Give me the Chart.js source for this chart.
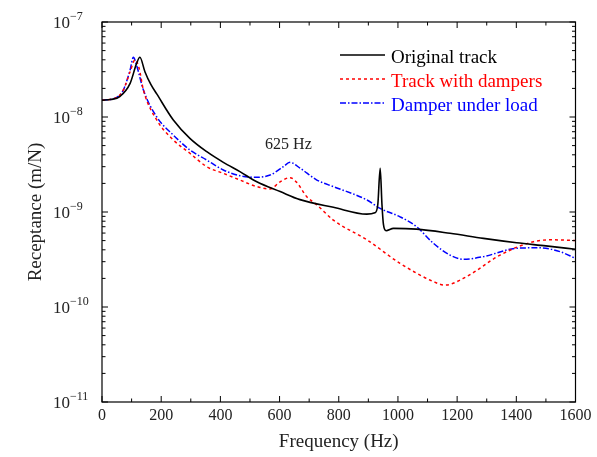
<!DOCTYPE html>
<html>
<head>
<meta charset="utf-8">
<script src="https://cdn.jsdelivr.net/npm/chart.js@4.4.1/dist/chart.umd.min.js"></script>
<style>
  html, body { margin: 0; padding: 0; background: #fff; }
</style>
</head>
<body>
<canvas id="receptanceChart" width="597" height="457"></canvas>
<script>
// frequencies (Hz) and receptance (m/N)
const freqOriginal = [0, 30, 60, 95, 117, 128, 145, 165, 185, 241, 297, 354, 410, 466, 523, 602, 669, 782, 895, 922, 932, 940, 946, 951, 960, 985, 1063, 1176, 1289, 1401, 1500, 1600];
const valOriginal = [1.5e-8, 1.53e-8, 1.64e-8, 2.26e-8, 3.67e-8, 4.25e-8, 3.0e-8, 2.2e-8, 1.75e-8, 9.3e-9, 5.96e-9, 4.31e-9, 3.33e-9, 2.66e-9, 2.08e-9, 1.64e-9, 1.35e-9, 1.12e-9, 9.5e-10, 9.8e-10, 1.2e-9, 2.88e-9, 1.2e-9, 7.4e-10, 6.35e-10, 6.73e-10, 6.6e-10, 5.97e-10, 5.28e-10, 4.75e-10, 4.4e-10, 4.05e-10];

const freqDampers = [0, 50, 72, 95, 112, 125, 140, 185, 241, 297, 354, 410, 466, 523, 568, 602, 635, 658, 692, 726, 782, 895, 1007, 1120, 1159, 1232, 1345, 1458, 1520, 1600];
const valDampers = [1.5e-8, 1.61e-8, 1.92e-8, 3.0e-8, 4.0e-8, 3.3e-8, 1.92e-8, 9.3e-9, 5.73e-9, 4.15e-9, 3.0e-9, 2.55e-9, 2.17e-9, 1.85e-9, 1.75e-9, 2.08e-9, 2.3e-9, 2.05e-9, 1.45e-9, 1.19e-9, 8.2e-10, 5.1e-10, 2.88e-10, 1.85e-10, 1.7e-10, 2.09e-10, 3.52e-10, 4.87e-10, 5.1e-10, 5.0e-10];

const freqLoad = [0, 50, 72, 95, 106, 118, 140, 185, 241, 297, 354, 410, 466, 523, 568, 613, 635, 669, 726, 782, 895, 940, 1007, 1063, 1120, 1176, 1221, 1289, 1401, 1480, 1548, 1600];
const valLoad = [1.5e-8, 1.61e-8, 1.92e-8, 3.13e-8, 4.25e-8, 3.4e-8, 1.92e-8, 1.0e-8, 6.45e-9, 4.5e-9, 3.52e-9, 2.77e-9, 2.41e-9, 2.32e-9, 2.45e-9, 3.0e-9, 3.33e-9, 2.9e-9, 2.17e-9, 1.85e-9, 1.34e-9, 1.09e-9, 8.9e-10, 7.0e-10, 4.68e-10, 3.52e-10, 3.18e-10, 3.39e-10, 4.15e-10, 4.2e-10, 3.82e-10, 3.25e-10];

const seriesLabels = ['Original track', 'Track with dampers', 'Damper under load'];
const seriesColors = ['#000000', '#ff0000', '#0000ff'];
const seriesDash = [[], [3, 3], [6, 2, 1.5, 2]];

const xTickValues = [0, 200, 400, 600, 800, 1000, 1200, 1400, 1600];
const yDecades = [-11, -10, -9, -8, -7];
const peakNote = { x: 630, y: 5.1e-9, text: '625 Hz' };

const SERIF = '"Liberation Serif", "Times New Roman", serif';

function toPoints(xs, ys) {
  return xs.map((x, i) => ({ x: x, y: ys[i] }));
}

const framePlugin = {
  id: 'frame',
  afterDraw(chart) {
    const ctx = chart.ctx;
    const a = chart.chartArea;
    const xs = chart.scales.x;
    const ys = chart.scales.y;
    ctx.save();
    ctx.strokeStyle = '#000';
    ctx.lineWidth = 1.2;
    ctx.strokeRect(a.left, a.top, a.right - a.left, a.bottom - a.top);

    // x ticks, inward on bottom and top
    ctx.lineWidth = 1;
    ctx.beginPath();
    for (let f = 0; f <= 1600; f += 100) {
      const px = xs.getPixelForValue(f);
      const len = f % 200 === 0 ? 6 : 3.5;
      ctx.moveTo(px, a.bottom); ctx.lineTo(px, a.bottom - len);
      ctx.moveTo(px, a.top); ctx.lineTo(px, a.top + len);
    }
    // y ticks, inward on left and right
    yDecades.forEach(d => {
      for (let k = 1; k <= 9; k++) {
        if (d === -7 && k > 1) break;
        const py = ys.getPixelForValue(k * Math.pow(10, d));
        const len = k === 1 ? 6 : 3.5;
        ctx.moveTo(a.left, py); ctx.lineTo(a.left + len, py);
        ctx.moveTo(a.right, py); ctx.lineTo(a.right - len, py);
      }
    });
    ctx.stroke();

    // y tick labels 10^n
    ctx.fillStyle = '#222';
    ctx.textBaseline = 'alphabetic';
    ctx.textAlign = 'left';
    yDecades.forEach(d => {
      const py = ys.getPixelForValue(Math.pow(10, d));
      ctx.font = '17px ' + SERIF;
      ctx.fillText('10', 53, py + 5.5);
      const w = ctx.measureText('10').width;
      ctx.font = '12px ' + SERIF;
      ctx.fillText('\u2212' + Math.abs(d), 53 + w, py - 2);
    });

    // y axis title
    ctx.save();
    ctx.translate(36, (a.top + a.bottom) / 2);
    ctx.rotate(-Math.PI / 2);
    ctx.textAlign = 'center';
    ctx.textBaseline = 'middle';
    ctx.font = '19px ' + SERIF;
    ctx.fillText('Receptance (m/N)', 0, 0);
    ctx.restore();

    // annotation
    ctx.font = '16px ' + SERIF;
    ctx.textAlign = 'center';
    ctx.textBaseline = 'middle';
    ctx.fillStyle = '#222';
    ctx.fillText(peakNote.text, xs.getPixelForValue(peakNote.x), ys.getPixelForValue(peakNote.y));

    // legend
    const rows = [55, 79, 103];
    ctx.textAlign = 'left';
    ctx.textBaseline = 'alphabetic';
    ctx.font = '19px ' + SERIF;
    seriesLabels.forEach((label, i) => {
      ctx.strokeStyle = seriesColors[i];
      ctx.lineWidth = 1.5;
      ctx.setLineDash(seriesDash[i]);
      ctx.beginPath();
      ctx.moveTo(340, rows[i]);
      ctx.lineTo(385, rows[i]);
      ctx.stroke();
      ctx.setLineDash([]);
      ctx.fillStyle = seriesColors[i];
      ctx.fillText(label, 391, rows[i] + 7.5);
    });
    ctx.restore();
  }
};

const ctx = document.getElementById('receptanceChart').getContext('2d');
new Chart(ctx, {
  type: 'line',
  data: {
    datasets: [
      { label: seriesLabels[0], data: toPoints(freqOriginal, valOriginal) },
      { label: seriesLabels[1], data: toPoints(freqDampers, valDampers) },
      { label: seriesLabels[2], data: toPoints(freqLoad, valLoad) }
    ].map((ds, i) => Object.assign(ds, {
      borderColor: seriesColors[i],
      borderDash: seriesDash[i],
      borderWidth: i === 0 ? 1.6 : 1.5,
      pointRadius: 0,
      fill: false,
      cubicInterpolationMode: 'monotone'
    }))
  },
  options: {
    responsive: false,
    animation: false,
    layout: { padding: { top: 22, right: 21.5, left: 0, bottom: 0 } },
    plugins: {
      legend: { display: false },
      tooltip: { enabled: false }
    },
    scales: {
      x: {
        type: 'linear',
        min: 0,
        max: 1600,
        afterFit: s => { s.height = 55; },
        afterBuildTicks: s => { s.ticks = xTickValues.map(v => ({ value: v })); },
        grid: { display: false, drawTicks: false },
        border: { display: false },
        ticks: {
          padding: 4,
          color: '#222',
          font: { family: SERIF, size: 16 },
          maxRotation: 0,
          callback: v => String(v)
        },
        title: {
          display: true,
          text: 'Frequency (Hz)',
          color: '#222',
          font: { family: SERIF, size: 19 },
          padding: { top: 4, bottom: 4 }
        }
      },
      y: {
        type: 'logarithmic',
        min: 1e-11,
        max: 1e-7,
        afterFit: s => { s.width = 102; },
        grid: { display: false, drawTicks: false },
        border: { display: false },
        ticks: { display: false }
      }
    }
  },
  plugins: [framePlugin]
});
</script>
</body>
</html>
